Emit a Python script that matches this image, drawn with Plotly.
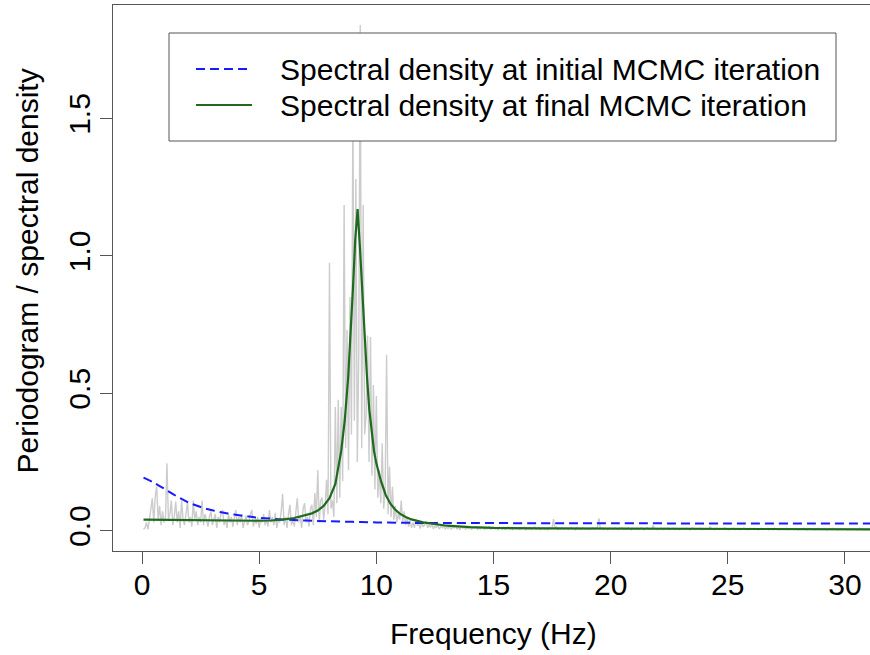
import numpy as np
import plotly.graph_objects as go

# ---------------- data ----------------
# periodogram frequencies (Hz): 0.0625 .. 31.25 step 0.0625
freq = np.arange(1, 501) * 0.0625

pgram = [
    # 0-1 Hz
    0.005, 0.010, 0.030, 0.005, 0.040, 0.090, 0.118, 0.030, 0.124, 0.160, 0.040, 0.090, 0.020, 0.070, 0.030, 0.045,
    # 1-2
    0.245, 0.040, 0.060, 0.110, 0.020, 0.050, 0.106, 0.030, 0.070, 0.010, 0.110, 0.040, 0.020, 0.060, 0.105, 0.030,
    # 2-3
    0.050, 0.015, 0.110, 0.040, 0.070, 0.020, 0.050, 0.030, 0.110, 0.020, 0.060, 0.040, 0.015, 0.050, 0.070, 0.020,
    # 3-4
    0.040, 0.060, 0.010, 0.050, 0.030, 0.065, 0.075, 0.020, 0.040, 0.010, 0.060, 0.030, 0.050, 0.015, 0.045, 0.075,
    # 4-5
    0.020, 0.050, 0.030, 0.060, 0.010, 0.040, 0.055, 0.020, 0.035, 0.060, 0.075, 0.015, 0.040, 0.025, 0.050, 0.010,
    # 5-6
    0.045, 0.030, 0.060, 0.020, 0.040, 0.015, 0.075, 0.030, 0.050, 0.020, 0.065, 0.010, 0.040, 0.030, 0.070, 0.134,
    # 6-7
    0.020, 0.050, 0.010, 0.060, 0.094, 0.020, 0.040, 0.015, 0.070, 0.118, 0.030, 0.050, 0.010, 0.080, 0.100, 0.030,
    # 7-8
    0.050, 0.015, 0.080, 0.094, 0.020, 0.137, 0.050, 0.220, 0.030, 0.110, 0.120, 0.040, 0.090, 0.185, 0.060, 0.975,
    # 8-9
    0.080, 0.110, 0.050, 0.450, 0.100, 0.476, 0.120, 0.450, 0.180, 1.185, 0.300, 0.730, 0.220, 0.850, 0.350, 1.550,
    # 9-10
    0.400, 1.280, 0.250, 0.645, 1.840, 0.300, 1.185, 0.350, 0.420, 0.710, 0.250, 0.705, 0.200, 0.530, 0.150, 0.490,
    # 10-11
    0.120, 0.220, 0.100, 0.318, 0.080, 0.150, 0.640, 0.060, 0.233, 0.050, 0.160, 0.040, 0.090, 0.030, 0.060, 0.040,
    # 11-12
    0.110, 0.030, 0.070, 0.020, 0.049, 0.015, 0.039, 0.010, 0.030, 0.010, 0.040, 0.020, 0.025, 0.008, 0.030, 0.015,
    # 12-13
    0.020, 0.035, 0.010, 0.020, 0.012, 0.025, 0.006, 0.018, 0.010, 0.022, 0.005, 0.015, 0.010, 0.020, 0.006, 0.012,
    # 13-14
    0.008, 0.018, 0.004, 0.014, 0.010, 0.020, 0.006, 0.012, 0.003, 0.016, 0.009, 0.013, 0.005, 0.011, 0.007, 0.015,
    # 14-15
    0.004, 0.012, 0.008, 0.016, 0.003, 0.010, 0.006, 0.013, 0.009, 0.004, 0.011, 0.007, 0.014, 0.005, 0.009, 0.012,
    # 15-16
    0.006, 0.010, 0.003, 0.012, 0.008, 0.005, 0.011, 0.004, 0.009, 0.013, 0.006, 0.010, 0.003, 0.008, 0.011, 0.005,
    # 16-17
    0.009, 0.004, 0.010, 0.007, 0.012, 0.003, 0.008, 0.006, 0.011, 0.004, 0.009, 0.014, 0.005, 0.007, 0.010, 0.004,
    # 17-18
    0.008, 0.011, 0.005, 0.009, 0.003, 0.012, 0.007, 0.010, 0.042, 0.006, 0.015, 0.004, 0.009, 0.006, 0.011, 0.005,
    # 18-19
    0.007, 0.010, 0.004, 0.008, 0.012, 0.005, 0.009, 0.003, 0.011, 0.006, 0.008, 0.004, 0.010, 0.007, 0.005, 0.009,
    # 19-20
    0.004, 0.008, 0.006, 0.011, 0.005, 0.009, 0.012, 0.045, 0.006, 0.010, 0.004, 0.008, 0.007, 0.003, 0.009, 0.006,
    # 20-21
    0.008, 0.004, 0.010, 0.006, 0.003, 0.009, 0.007, 0.011, 0.004, 0.008, 0.005, 0.010, 0.006, 0.003, 0.008, 0.007,
    # 21-22
    0.005, 0.009, 0.004, 0.007, 0.010, 0.006, 0.003, 0.008, 0.011, 0.005, 0.007, 0.004, 0.020, 0.006, 0.008, 0.003,
    # 22-23
    0.007, 0.005, 0.009, 0.004, 0.008, 0.006, 0.010, 0.003, 0.007, 0.005, 0.009, 0.004, 0.006, 0.008, 0.003, 0.007,
    # 23-24
    0.005, 0.008, 0.004, 0.009, 0.006, 0.003, 0.007, 0.010, 0.005, 0.004, 0.008, 0.006, 0.009, 0.003, 0.007, 0.005,
    # 24-25
    0.008, 0.004, 0.006, 0.015, 0.005, 0.007, 0.003, 0.009, 0.006, 0.004, 0.008, 0.005, 0.007, 0.010, 0.004, 0.006,
    # 25-26
    0.003, 0.007, 0.005, 0.009, 0.004, 0.006, 0.008, 0.003, 0.007, 0.005, 0.010, 0.004, 0.006, 0.003, 0.008, 0.005,
    # 26-27
    0.006, 0.004, 0.008, 0.005, 0.003, 0.007, 0.009, 0.004, 0.006, 0.005, 0.008, 0.003, 0.007, 0.005, 0.004, 0.009,
    # 27-28
    0.005, 0.007, 0.003, 0.006, 0.008, 0.004, 0.005, 0.009, 0.003, 0.007, 0.005, 0.006, 0.004, 0.008, 0.005, 0.003,
    # 28-29
    0.007, 0.004, 0.006, 0.009, 0.005, 0.003, 0.007, 0.005, 0.008, 0.004, 0.006, 0.003, 0.007, 0.009, 0.004, 0.006,
    # 29-30
    0.004, 0.008, 0.005, 0.003, 0.007, 0.006, 0.004, 0.009, 0.005, 0.007, 0.003, 0.006, 0.008, 0.004, 0.005, 0.007,
    # 30-31
    0.005, 0.003, 0.007, 0.006, 0.004, 0.008, 0.005, 0.003, 0.006, 0.009, 0.004, 0.007, 0.005, 0.003, 0.006, 0.004,
    # 31-31.25
    0.006, 0.004, 0.005, 0.007,
]

# spectral density at initial MCMC iteration (blue dashed)
init_f = [0.0625, 0.5, 1.0, 1.5, 2.0, 2.5, 3.0, 3.5, 4.0, 4.5, 5.0, 6.0, 7.0, 8.0, 9.0, 10.0,
          11.0, 12.0, 14.0, 17.0, 20.0, 25.0, 31.25]
init_s = [0.193, 0.175, 0.150, 0.124, 0.102, 0.086, 0.074, 0.065, 0.058, 0.052, 0.047, 0.041,
          0.037, 0.034, 0.032, 0.030, 0.029, 0.028, 0.028, 0.027, 0.027, 0.026, 0.026]

# spectral density at final MCMC iteration (green)
final_f = [0.0625, 1.0, 2.0, 3.0, 4.0, 5.0, 5.5, 6.0, 6.5, 7.0, 7.25, 7.5, 7.75, 8.0, 8.25,
           8.5, 8.65, 8.8, 8.9, 9.0, 9.1, 9.2, 9.3, 9.4, 9.5, 9.6, 9.7, 9.8, 9.9, 10.0,
           10.2, 10.4, 10.6, 10.8, 11.0, 11.25, 11.5, 12.0, 12.5, 13.0, 14.0, 15.0, 17.0,
           20.0, 25.0, 31.25]
final_s = [0.040, 0.039, 0.038, 0.037, 0.036, 0.036, 0.037, 0.040, 0.046, 0.056, 0.063, 0.073,
           0.090, 0.118, 0.170, 0.290, 0.400, 0.560, 0.700, 0.880, 1.060, 1.170, 1.030, 0.860,
           0.700, 0.560, 0.440, 0.360, 0.290, 0.245, 0.180, 0.130, 0.098, 0.077, 0.062, 0.050,
           0.041, 0.030, 0.023, 0.018, 0.013, 0.010, 0.008, 0.007, 0.006, 0.005]

x_ticks = [0, 5, 10, 15, 20, 25, 30]
y_ticks = [0.0, 0.5, 1.0, 1.5]
legend_labels = ["Spectral density at initial MCMC iteration",
                 "Spectral density at final MCMC iteration"]

# ---------------- figure ----------------
W, H = 870, 655
ML, MR, MT, MB = 113, 0, 5, 104
PW, PH = W - ML - MR, H - MT - MB


def px(xp):
    return (xp - ML) / PW


def py(yp):
    return (H - MB - yp) / PH


FONT = "Liberation Sans, Arial, Helvetica, sans-serif"
AXC = "#555555"
BLUE = "#1a1aff"
GREEN = "#1e6b1e"
GREY = "#cccccc"

fig = go.Figure()
fig.add_trace(go.Scatter(x=freq, y=pgram, mode="lines",
                         line=dict(color=GREY, width=1.4), showlegend=False))
fig.add_trace(go.Scatter(x=init_f, y=init_s, mode="lines", line_shape="spline",
                         line=dict(color=BLUE, width=2, dash="9px,5px"), showlegend=False))
fig.add_trace(go.Scatter(x=final_f, y=final_s, mode="lines",
                         line=dict(color=GREEN, width=2.2), showlegend=False))

fig.update_xaxes(range=[-1.24, 31.07], tickvals=x_ticks, ticktext=[str(v) for v in x_ticks],
                 ticks="outside", ticklen=12, tickcolor=AXC, tickwidth=1,
                 showline=True, linecolor=AXC, linewidth=1, mirror=True,
                 showgrid=False, zeroline=False, ticklabelstandoff=-5,
                 tickfont=dict(family=FONT, size=30, color="black"))
fig.update_yaxes(range=[-0.074, 1.913], tickvals=y_ticks, ticktext=["0.0", "0.5", "1.0", "1.5"],
                 ticks="outside", ticklen=12, tickcolor=AXC, tickwidth=1,
                 showline=True, linecolor=AXC, linewidth=1,
                 showgrid=False, zeroline=False, tickangle=-90, ticklabelstandoff=-2,
                 tickfont=dict(family=FONT, size=30, color="black"))

shapes = []
# legend box
shapes.append(dict(type="rect", xref="paper", yref="paper",
                   x0=px(169), x1=px(836), y0=py(141), y1=py(33),
                   line=dict(color=AXC, width=1), fillcolor="white", layer="above"))
shapes.append(dict(type="line", xref="paper", yref="paper",
                   x0=px(196), x1=px(252), y0=py(69), y1=py(69),
                   line=dict(color=BLUE, width=2, dash="9px,5px"), layer="above"))
shapes.append(dict(type="line", xref="paper", yref="paper",
                   x0=px(196), x1=px(252), y0=py(105), y1=py(105),
                   line=dict(color=GREEN, width=2.2), layer="above"))

annotations = []
for lab, yy in zip(legend_labels, [69, 105]):
    annotations.append(dict(text=lab, xref="paper", yref="paper", x=px(278), y=py(yy),
                            xanchor="left", yanchor="middle", showarrow=False,
                            font=dict(family=FONT, size=30, color="black")))
annotations.append(dict(text="Frequency (Hz)", xref="paper", yref="paper",
                        x=px(493.5), y=py(633), xanchor="center", yanchor="middle",
                        showarrow=False, font=dict(family=FONT, size=30, color="black")))
annotations.append(dict(text="Periodogram / spectral density", xref="paper", yref="paper",
                        x=px(27), y=py(271.5), xanchor="center", yanchor="middle",
                        textangle=-90, showarrow=False,
                        font=dict(family=FONT, size=30, color="black")))

fig.update_layout(width=W, height=H, margin=dict(l=ML, r=MR, t=MT, b=MB),
                  paper_bgcolor="white", plot_bgcolor="white",
                  shapes=shapes, annotations=annotations, showlegend=False)

fig.write_html("out.html")
